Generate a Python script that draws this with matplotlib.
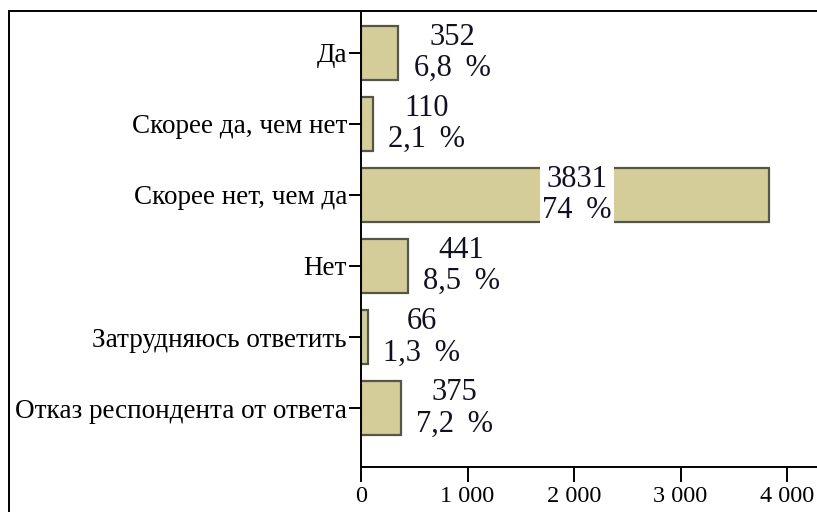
import matplotlib.pyplot as plt
from matplotlib.patches import Rectangle
from matplotlib.ticker import FuncFormatter

# данные опроса
categories = ["Да", "Скорее да, чем нет", "Скорее нет, чем да", "Нет",
              "Затрудняюсь ответить", "Отказ респондента от ответа"]
counts = [352, 110, 3831, 441, 66, 375]
percents = [6.8, 2.1, 74, 8.5, 1.3, 7.2]
x_ticks = [0, 1000, 2000, 3000, 4000]

plt.rcParams['font.family'] = ['Liberation Serif', 'DejaVu Serif']

fig = plt.figure(figsize=(8.17, 5.12), dpi=100)
ax = fig.add_axes([361 / 817, 1 - 467 / 512, 1 - 361 / 817, (467 - 11) / 512])

# рамка вокруг рисунка
fig.patches.append(Rectangle((9 / 817, -0.05), 1.0, 1 - 11 / 512 + 0.05,
                             transform=fig.transFigure, fill=False,
                             edgecolor='black', linewidth=1.4))

y = list(range(len(categories)))
ax.barh(y, counts, height=0.76, color='#d4cd99', edgecolor='#555548', linewidth=1.6)

def fmt_pct(p):
    s = f"{p:.1f}" if p != int(p) else f"{int(p)}"
    return s.replace('.', ',') + "\u2009 %"

for i, (c, p) in enumerate(zip(counts, percents)):
    txt = f"{c}\n{fmt_pct(p)}"
    if c > 3000:
        # большая полоса - подпись внутри на белом фоне
        ax.text(c * 0.53, i, txt, ha='center', va='center', fontsize=22,
                multialignment='center', linespacing=1.12, color='#111122',
                bbox=dict(facecolor='white', edgecolor='none', pad=1.5))
    else:
        ax.annotate(txt, (c, i), xytext=(11, 0), textcoords='offset points',
                    ha='left', va='center', fontsize=22, color='#111122',
                    multialignment='center', linespacing=1.12)

ax.set_yticks(y)
ax.set_yticklabels(categories, fontsize=19.5)
ax.set_ylim(5.83, -0.59)
ax.set_xlim(0, (817 - 361) / 106.5 * 1000)
ax.set_xticks(x_ticks)
ax.xaxis.set_major_formatter(FuncFormatter(lambda v, pos: f"{int(v):,}".replace(',', ' ')))
ax.tick_params(axis='x', length=11, width=1.4, labelsize=17.5, pad=3)
ax.tick_params(axis='y', length=9, width=1.4, pad=1)

for s in ['top', 'right']:
    ax.spines[s].set_visible(False)
ax.spines['left'].set_linewidth(1.4)
ax.spines['bottom'].set_linewidth(1.4)

fig.savefig('out.png', dpi=100)
